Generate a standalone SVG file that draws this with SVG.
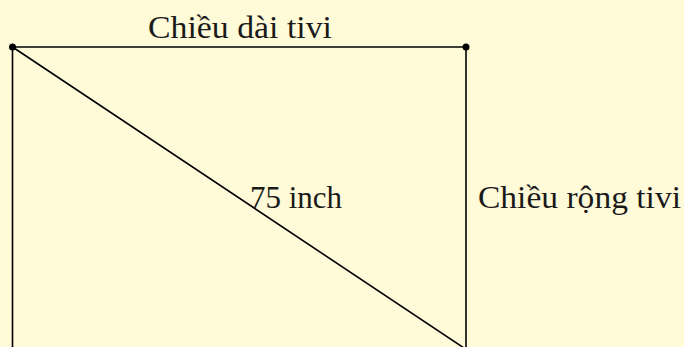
<svg xmlns="http://www.w3.org/2000/svg" width="684" height="347" viewBox="0 0 684 347">
<style>
.ln{stroke:#000;stroke-width:1.6;fill:none;stroke-linecap:round}
.t{font-family:"Liberation Serif","DejaVu Serif",serif;font-size:31px;fill:#1a1a1a}
</style>
<rect x="0" y="0" width="684" height="347" fill="#FFFAD8"/>
<g id="connectors">
<line class="ln" x1="12.5" y1="47" x2="466" y2="47"/>
<line class="ln" x1="12.5" y1="47" x2="12.5" y2="360"/>
<line class="ln" x1="466" y1="47" x2="466" y2="360"/>
<line class="ln" x1="12.5" y1="47" x2="467" y2="350"/>
</g>
<g id="node-A"><circle cx="12.5" cy="47" r="3.5" fill="#000"/></g>
<g id="node-B"><circle cx="466" cy="47" r="3.5" fill="#000"/></g>
<g id="label-length"><text class="t" x="148" y="38" textLength="184" lengthAdjust="spacingAndGlyphs">Chiều dài tivi</text></g>
<g id="label-diagonal"><text class="t" x="250" y="208" textLength="92" lengthAdjust="spacingAndGlyphs">75 inch</text></g>
<g id="label-width"><text class="t" x="478" y="208" textLength="203" lengthAdjust="spacingAndGlyphs">Chiều rộng tivi</text></g>
</svg>
